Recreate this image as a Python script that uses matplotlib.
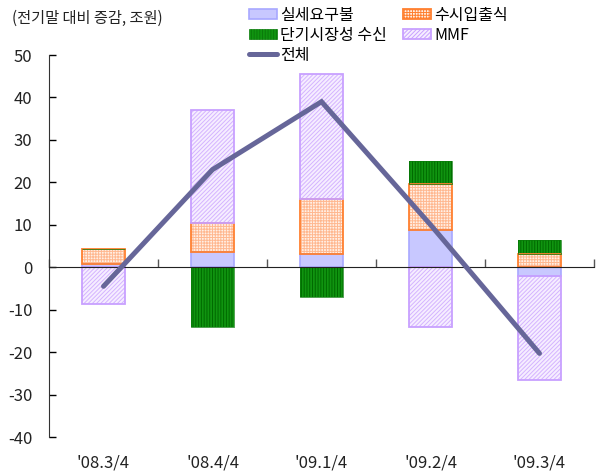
import matplotlib
matplotlib.use("Agg")
import matplotlib.pyplot as plt
import numpy as np
from matplotlib.transforms import blended_transform_factory

plt.rcParams['font.family'] = ['Noto Sans CJK KR', 'DejaVu Sans']
plt.rcParams['hatch.linewidth'] = 0.7

categories = ["'08.3/4", "'08.4/4", "'09.1/4", "'09.2/4", "'09.3/4"]
demand = [0.7, 3.5, 3.2, 8.7, -2.0]        # 실세요구불
savings = [3.5, 6.9, 12.8, 10.9, 3.1]      # 수시입출식
shortterm = [0.0, -14.1, -7.0, 5.4, 3.3]   # 단기시장성 수신
mmf = [-8.6, 26.6, 29.6, -14.1, -24.6]     # MMF
total = [-4.5, 23.0, 39.0, 10.0, -20.3]    # 전체
yticks = [50, 40, 30, 20, 10, 0, -10, -20, -30, -40]

fig = plt.figure(figsize=(5.98, 4.71), dpi=100)
ax = fig.add_axes([49/598, 1-437/471, (594-49)/598, (437-55)/471])

x = np.arange(len(categories))
w = 0.4
# (name, values, face, hatch colour, hatch, outline colour, outline width)
series = [
    ("실세요구불", demand, "#c8c8ff", "#c8c8ff", None, "#a8a8ff", 1.2),
    ("수시입출식", savings, "#fff0e6", "#ffb890", "++++++", "#ff8030", 1.3),
    ("단기시장성 수신", shortterm, "#109410", "#006a00", "||||||", "#0a7a0a", 0.5),
    ("MMF", mmf, "#f6eeff", "#d4b4ff", "////////", "#c8a0ff", 1.3),
]
pos_base = np.zeros(len(x))
neg_base = np.zeros(len(x))
handles = {}
for name, vals, face, hcol, hatch, ecol, lw in series:
    vals = np.array(vals)
    bottoms = np.where(vals >= 0, pos_base, neg_base)
    ax.bar(x, vals, w, bottom=bottoms, facecolor=face, edgecolor=hcol,
           hatch=hatch, linewidth=0, zorder=2)
    ax.bar(x, vals, w, bottom=bottoms, fill=False, edgecolor=ecol,
           linewidth=lw, zorder=2.1)
    handles[name] = plt.Rectangle((0, 0), 1, 1, facecolor=face, edgecolor=ecol,
                                  hatch=hatch, linewidth=lw)
    pos_base = pos_base + np.where(vals >= 0, vals, 0)
    neg_base = neg_base + np.where(vals < 0, vals, 0)

ln, = ax.plot(x, total, color="#666699", linewidth=3.6, solid_capstyle="round",
              solid_joinstyle="miter", zorder=4, label="전체")

ax.set_xlim(-0.5, 4.5)
ax.set_ylim(-40, 50)
ax.set_yticks(yticks)
ax.set_yticklabels([str(t) for t in yticks], fontsize=12, color="#222222")
ax.tick_params(axis='y', direction='in', length=5, width=1, pad=12)
ax.spines['top'].set_visible(False)
ax.spines['right'].set_visible(False)
ax.spines['left'].set_color("#333333")
ax.spines['bottom'].set_position(('data', 0))
ax.spines['bottom'].set_color("#222222")
ax.spines['bottom'].set_zorder(3)
ax.set_xticks(np.arange(-0.5, 4.6, 1.0))
ax.set_xticklabels([])
ax.tick_params(axis='x', direction='in', length=6, width=1, color="#555555")

trans = blended_transform_factory(ax.transData, fig.transFigure)
for i, c in enumerate(categories):
    ax.text(i, 1-463/471, c, transform=trans, ha='center', va='center',
            fontsize=12, color="#222222", clip_on=False)

fig.text(12/598, 1-18/471, "(전기말 대비 증감, 조원)", fontsize=11, color="#222222",
         ha='left', va='center')

hs = [handles["실세요구불"], handles["단기시장성 수신"], ln, handles["수시입출식"], handles["MMF"]]
ls = ["실세요구불", "단기시장성 수신", "전체", "수시입출식", "MMF"]
fig.legend(hs, ls, loc='upper left', bbox_to_anchor=(240/598, 1+2/471), ncol=2,
           frameon=False, fontsize=11.5, handlelength=1.75, handleheight=0.6,
           handletextpad=0.2, columnspacing=1.0, labelspacing=0.18, borderpad=0.05)

fig.savefig("out.png", dpi=100)
